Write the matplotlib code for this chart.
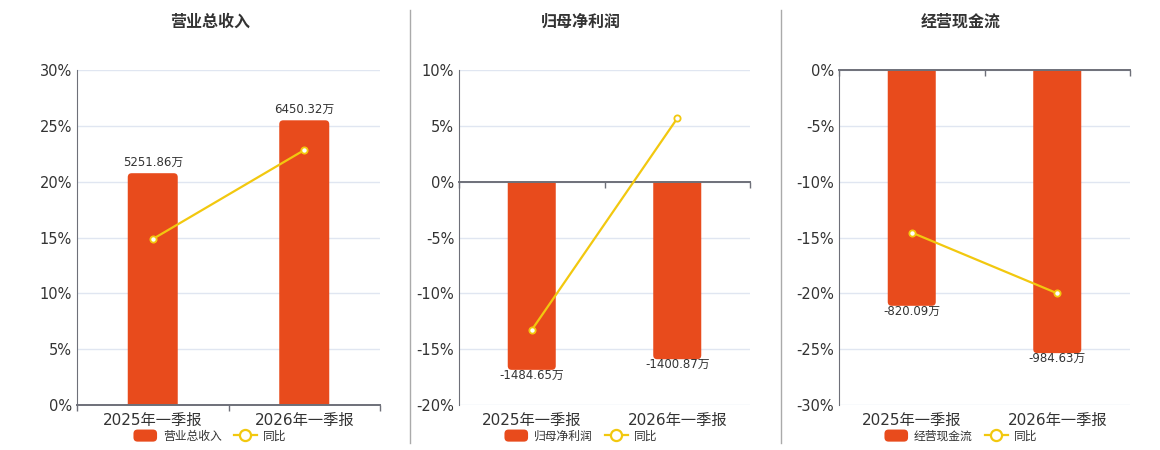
import numpy as np
import matplotlib
matplotlib.use("Agg")
import matplotlib.pyplot as plt
from matplotlib.patches import Rectangle, FancyBboxPatch, Patch
from matplotlib.lines import Line2D
from matplotlib.legend_handler import HandlerPatch

plt.rcParams["font.family"] = ["DejaVu Sans", "Noto Sans CJK SC"]

periods = ["2025年一季报", "2026年一季报"]

titles = ["营业总收入", "归母净利润", "经营现金流"]
revenue = [5251.86, 6450.32]
revenue_yoy = [14.86, 22.83]
profit = [-1484.65, -1400.87]
profit_yoy = [-13.28, 5.67]
cashflow = [-820.09, -984.63]
cashflow_yoy = [-14.56, -20.0]

pct_limits = [(0, 30), (-20, 10), (-30, 0)]
bar_limits = [(0, 7590), (-1762, 881), (-1165, 0)]

BAR_COLOR = "#E84B1C"
LINE_COLOR = "#F2C80F"
AXIS_COLOR = "#6E7079"
GRID_COLOR = "#E0E6F1"
TEXT_COLOR = "#333333"

fig = plt.figure(figsize=(11.6, 4.5), dpi=100)

rects = [
    [77 / 1160, 0.1, 303 / 1160, 335 / 450],
    [459 / 1160, 0.1, 291 / 1160, 335 / 450],
    [839 / 1160, 0.1, 291 / 1160, 335 / 450],
]
centers = [210 / 1160, 581 / 1160, 961 / 1160]


def rounded_bar(ax, x, h, width, r_px=4):
    # rounded at the far end only: extend past the baseline, then clip there
    bbox = ax.get_window_extent()
    x0, x1 = ax.get_xlim()
    y0, y1 = ax.get_ylim()
    ux = (x1 - x0) / bbox.width
    uy = (y1 - y0) / bbox.height
    ext = 3 * r_px * uy * np.sign(h)
    lo, hi = sorted([-ext, h])
    bar = FancyBboxPatch((x - width / 2, lo), width, hi - lo,
                         boxstyle=f"round,pad=0,rounding_size={r_px * ux}",
                         mutation_aspect=uy / ux,
                         facecolor=BAR_COLOR, edgecolor="none")
    ax.add_patch(bar)
    c_lo, c_hi = sorted([0, 2 * h])
    clip = Rectangle((x - width, c_lo), 2 * width, c_hi - c_lo,
                     transform=ax.transData)
    bar.set_clip_path(clip)


def round_handle(legend, orig_handle, xdescent, ydescent, width, height, fontsize):
    return FancyBboxPatch((-xdescent, -ydescent), width, height,
                          boxstyle="round,pad=0,rounding_size=3")


def draw_panel(i, values, yoy):
    ax = fig.add_axes(rects[i])
    lo, hi = pct_limits[i]
    ax.set_ylim(lo, hi)
    ax.set_xlim(-0.5, 1.5)
    ticks = np.arange(lo, hi + 1, 5)
    ax.set_yticks(ticks)
    ax.set_yticklabels([f"{t}%" for t in ticks])
    ax.grid(axis="y", color=GRID_COLOR, lw=1)
    ax.set_axisbelow(True)
    for s in ["top", "right", "bottom"]:
        ax.spines[s].set_visible(False)
    ax.spines["left"].set_color(AXIS_COLOR)
    ax.tick_params(axis="y", length=0, pad=3.5, labelsize=10.5, labelcolor=TEXT_COLOR)
    ax.set_xticks([0, 1])
    ax.set_xticklabels(periods)
    ax.set_xticks([-0.5, 0.5, 1.5], minor=True)
    ax.tick_params(axis="x", which="both", length=0, pad=6, labelsize=11,
                   labelcolor=TEXT_COLOR)

    # bars on hidden twin axis
    axb = ax.twinx()
    axb.set_ylim(*bar_limits[i])
    axb.set_xlim(-0.5, 1.5)
    axb.yaxis.set_visible(False)
    axb.xaxis.set_visible(True)
    for s in ["top", "right", "left"]:
        axb.spines[s].set_visible(False)
    axb.spines["bottom"].set_position(("data", 0))
    axb.spines["bottom"].set_color(AXIS_COLOR)
    axb.spines["bottom"].set_linewidth(1.4)
    axb.spines["bottom"].set_zorder(4)
    axb.tick_params(axis="x", which="major", length=0, labelbottom=False)
    axb.tick_params(axis="x", which="minor", length=4, direction="out",
                    color=AXIS_COLOR, width=1)
    for k, v in enumerate(values):
        rounded_bar(axb, k, v, 0.33)
        if v >= 0:
            axb.annotate(f"{v:.2f}万", (k, v), xytext=(0, 3), textcoords="offset points",
                         ha="center", va="bottom", fontsize=8.5, color=TEXT_COLOR)
        else:
            axb.annotate(f"{v:.2f}万", (k, v), xytext=(0, 0.8), textcoords="offset points",
                         ha="center", va="top", fontsize=8.5, color=TEXT_COLOR)

    # yoy line on top
    axl = ax.twinx()
    axl.set_ylim(lo, hi)
    axl.axis("off")
    axl.plot(range(len(yoy)), yoy, color=LINE_COLOR, lw=1.6, marker="o", ms=4.5,
             mfc="white", mec=LINE_COLOR, mew=1.3, zorder=5)

    fig.text(centers[i], 0.951, titles[i], ha="center", va="center",
             fontsize=11.5, fontweight="bold", color=TEXT_COLOR)

    handles = [Patch(facecolor=BAR_COLOR, edgecolor="none"),
               Line2D([], [], color=LINE_COLOR, lw=1.6, marker="o", ms=8,
                      mfc="white", mec=LINE_COLOR, mew=1.6)]
    fig.legend(handles, [titles[i], "同比"], loc="center",
               bbox_to_anchor=(centers[i], 0.031), ncol=2, frameon=False,
               fontsize=8.5, labelcolor=TEXT_COLOR, handlelength=2.0,
               handleheight=1.2, handletextpad=0.5, columnspacing=1.0,
               handler_map={Patch: HandlerPatch(patch_func=round_handle)})


draw_panel(0, revenue, revenue_yoy)
draw_panel(1, profit, profit_yoy)
draw_panel(2, cashflow, cashflow_yoy)

for xs in [410 / 1160, 781 / 1160]:
    fig.add_artist(Line2D([xs, xs], [1 - 10 / 450, 1 - 443 / 450],
                          transform=fig.transFigure, color="#AAAAAA", lw=1))

fig.savefig("out.png", dpi=100)
